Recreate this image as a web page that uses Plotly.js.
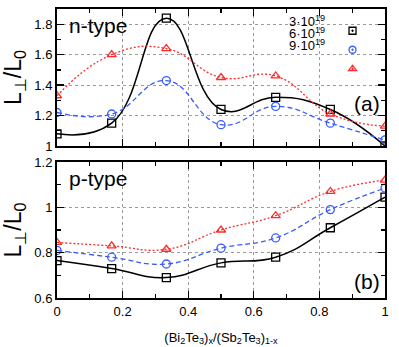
<!DOCTYPE html>
<html>
<head>
<meta charset="utf-8">
<script src="https://cdn.plot.ly/plotly-3.0.1.min.js"></script>
<style>
  body { margin: 0; background: #fff; }
  #myDiv { width: 399px; height: 347px; }
</style>
</head>
<body>
<div id="myDiv"></div>
<script>
// composition x of (Bi2Te3)x/(Sb2Te3)1-x
var xComp = [0, 1/6, 1/3, 1/2, 2/3, 5/6, 1];

// n-type, L_perp / L0
var n3 = [1.08, 1.15, 1.84, 1.24, 1.32, 1.24, 1.00];
var n6 = [1.22, 1.21, 1.43, 1.14, 1.26, 1.15, 1.04];
var n9 = [1.33, 1.60, 1.64, 1.45, 1.46, 1.21, 1.13];

// p-type, L_perp / L0
var p3 = [0.765, 0.73, 0.69, 0.755, 0.78, 0.91, 1.045];
var p6 = [0.81, 0.78, 0.75, 0.82, 0.865, 0.99, 1.085];
var p9 = [0.845, 0.83, 0.815, 0.90, 0.963, 1.07, 1.12];

var seriesNames = ['3·10<sup>19</sup>', '6·10<sup>19</sup>', '9·10<sup>19</sup>'];
var colors = ['#000000', '#3a5cff', '#ff2a2a'];
var dashes = ['solid', '5px,3px', '2px,2px'];
var symbols = ['square-open', 'circle-open', 'triangle-up-open'];
var keySymbols = ['square-open-dot', 'circle-open-dot', 'triangle-up-open-dot'];

var FONT = 'Liberation Sans, Arial, Helvetica, sans-serif';

function curve(y, k, xa, ya) {
  return {
    x: xComp, y: y, xaxis: xa, yaxis: ya,
    mode: 'lines+markers', type: 'scatter',
    line: {shape: 'spline', smoothing: 1.3, color: colors[k], dash: dashes[k], width: k == 0 ? 1.5 : 1.3},
    marker: {symbol: symbols[k], size: 8, color: colors[k], line: {width: 1.3, color: colors[k]}},
    showlegend: false, hoverinfo: 'skip'
  };
}

var data = [
  curve(n3, 0, 'x', 'y'), curve(n6, 1, 'x', 'y'), curve(n9, 2, 'x', 'y'),
  curve(p3, 0, 'x2', 'y2'), curve(p6, 1, 'x2', 'y2'), curve(p9, 2, 'x2', 'y2')
];

// key entries (symbols only, labels are drawn to their left as in the original)
for (var k = 0; k < 3; k++) {
  data.push({
    x: [null], y: [null], xaxis: 'x', yaxis: 'y',
    mode: 'markers', type: 'scatter', name: ' ',
    marker: {symbol: keySymbols[k], size: 7, color: colors[k], line: {width: 1.3, color: colors[k]}},
    showlegend: true
  });
}

function xAxis(anchor, labels) {
  return {
    anchor: anchor, domain: [0, 1], range: [0, 1],
    tick0: 0, dtick: 0.2, ticks: 'inside', ticklen: 7, tickwidth: 1.3, tickcolor: '#000',
    minor: {dtick: 0.1, ticks: 'inside', ticklen: 4, tickwidth: 1.3, tickcolor: '#000', showgrid: false},
    showticklabels: labels, tickfont: {family: FONT, size: 13, color: '#000'},
    showline: true, linewidth: 2, linecolor: '#000', mirror: 'ticks',
    showgrid: true, gridcolor: '#9a9a9a', griddash: 'dot', gridwidth: 1,
    zeroline: false, fixedrange: true
  };
}

function yAxis(anchor, dom, rng) {
  return {
    anchor: anchor, domain: dom, range: rng,
    tick0: rng[0], dtick: 0.2, ticks: 'inside', ticklen: 7, tickwidth: 1.3, tickcolor: '#000',
    minor: {dtick: 0.1, ticks: 'inside', ticklen: 4, tickwidth: 1.3, tickcolor: '#000', showgrid: false},
    tickfont: {family: FONT, size: 13, color: '#000'},
    showline: true, linewidth: 2, linecolor: '#000', mirror: 'ticks',
    showgrid: true, gridcolor: '#9a9a9a', griddash: 'dot', gridwidth: 1,
    zeroline: false, fixedrange: true,
    title: {text: 'L<sub>⊥</sub>/L<sub>0</sub>', font: {family: FONT, size: 23, color: '#000'}, standoff: 8}
  };
}

var xa1 = xAxis('y', false);
var xa2 = xAxis('y2', true);
xa2.title = {text: '(Bi<sub>2</sub>Te<sub>3</sub>)<sub>x</sub>/(Sb<sub>2</sub>Te<sub>3</sub>)<sub>1-x</sub>',
             font: {family: FONT, size: 13, color: '#000'}, standoff: 15};

var annotations = [
  {text: 'n-type', xref: 'x domain', yref: 'y domain', x: 0.03, y: 0.88, xanchor: 'left', yanchor: 'middle', showarrow: false, font: {family: FONT, size: 21, color: '#000'}},
  {text: 'p-type', xref: 'x2 domain', yref: 'y2 domain', x: 0.03, y: 0.88, xanchor: 'left', yanchor: 'middle', showarrow: false, font: {family: FONT, size: 21, color: '#000'}},
  {text: '(a)', xref: 'x domain', yref: 'y domain', x: 0.99, y: 0.31, xanchor: 'right', yanchor: 'middle', showarrow: false, font: {family: FONT, size: 21, color: '#000'}},
  {text: '(b)', xref: 'x2 domain', yref: 'y2 domain', x: 0.99, y: 0.12, xanchor: 'right', yanchor: 'middle', showarrow: false, font: {family: FONT, size: 21, color: '#000'}}
];
var keyY = [0.91, 0.825, 0.74];
for (var k = 0; k < 3; k++) {
  annotations.push({text: seriesNames[k], xref: 'x domain', yref: 'y domain', x: 0.82, y: keyY[k],
    xanchor: 'right', yanchor: 'middle', showarrow: false, borderpad: 0,
    font: {family: FONT, size: 13, color: '#000'}});
}

var layout = {
  width: 399, height: 347,
  margin: {l: 57, r: 14, t: 9, b: 49},
  paper_bgcolor: '#fff', plot_bgcolor: '#fff',
  font: {family: FONT, color: '#000'},
  xaxis: xa1,
  yaxis: yAxis('x', [0.526, 1], [1, 1.9]),
  xaxis2: xa2,
  yaxis2: yAxis('x2', [0, 0.4706], [0.6, 1.2]),
  showlegend: true,
  legend: {x: 0.84, y: 0.975, xanchor: 'left', yanchor: 'top', bgcolor: 'rgba(0,0,0,0)',
           font: {family: FONT, size: 7}, tracegroupgap: 0, itemwidth: 30},
  annotations: annotations
};

Plotly.newPlot('myDiv', data, layout, {staticPlot: true});
</script>
</body>
</html>
